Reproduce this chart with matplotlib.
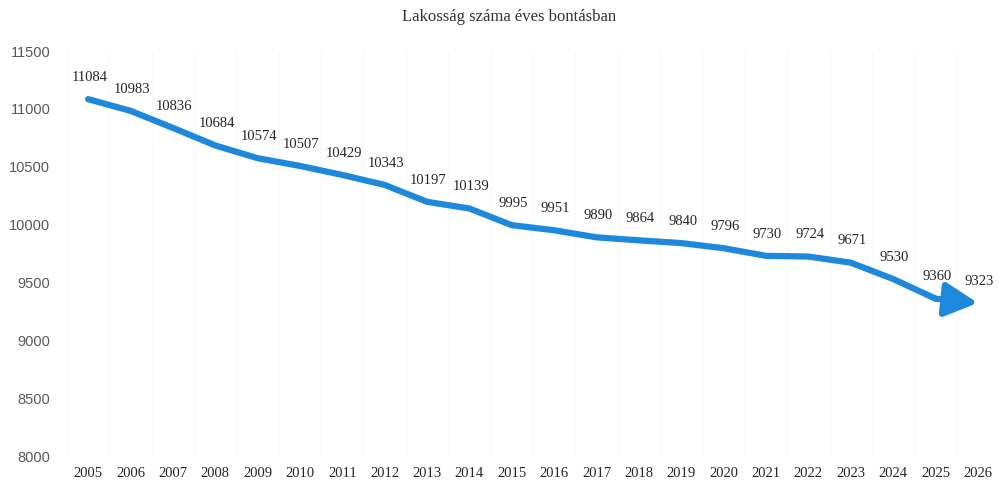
import matplotlib
matplotlib.use("Agg")
import matplotlib.pyplot as plt

years = [str(y) for y in range(2005, 2027)]
population = [11084, 10983, 10836, 10684, 10574, 10507, 10429, 10343, 10197, 10139,
              9995, 9951, 9890, 9864, 9840, 9796, 9730, 9724, 9671, 9530, 9360, 9323]
yticks = [8000, 8500, 9000, 9500, 10000, 10500, 11000, 11500]
title = "Lakosság száma éves bontásban"

serif = ["Liberation Serif", "DejaVu Serif"]
sans = ["Liberation Sans", "DejaVu Sans"]
blue = "#1e88dc"

fig = plt.figure(figsize=(9.99, 4.93), dpi=100)
ax = fig.add_axes([0.067, 0.075, 0.933, 0.8215])

x = list(range(len(years)))
ax.plot(x[:-1], population[:-1], color=blue, lw=4.5, solid_joinstyle="round",
        solid_capstyle="round", zorder=3)
ax.annotate("", xy=(x[-1], population[-1]), xytext=(x[-2], population[-2]),
            arrowprops=dict(arrowstyle="-|>,head_length=0.5,head_width=0.26", lw=4.5,
                            color=blue, mutation_scale=40, shrinkA=0, shrinkB=0), zorder=3)

for xi, v in zip(x, population):
    ax.annotate(str(v), (xi, v), xytext=(1, 11), textcoords="offset points",
                ha="center", va="bottom", fontsize=10.5, family=serif, color="#262626")

ax.set_xlim(-0.5, len(years) - 0.5)
ax.set_ylim(8000, 11500)
ax.set_xticks(x)
ax.set_xticklabels(years, family=serif, fontsize=10.5, color="#262626")
ax.set_yticks(yticks)
ax.set_yticklabels([str(t) for t in yticks], family=sans, fontsize=10.5, color="#595959")
ax.tick_params(length=0, pad=8)
ax.tick_params(axis="y", pad=12)
for s in ax.spines.values():
    s.set_visible(False)
for xi in x:
    ax.axvline(xi - 0.5, color="#f8f8f8", lw=0.8, zorder=0)

fig.text(0.51, 0.965, title, ha="center", va="center", family=serif, fontsize=12, color="#333333")

fig.savefig("out.png", dpi=100)
